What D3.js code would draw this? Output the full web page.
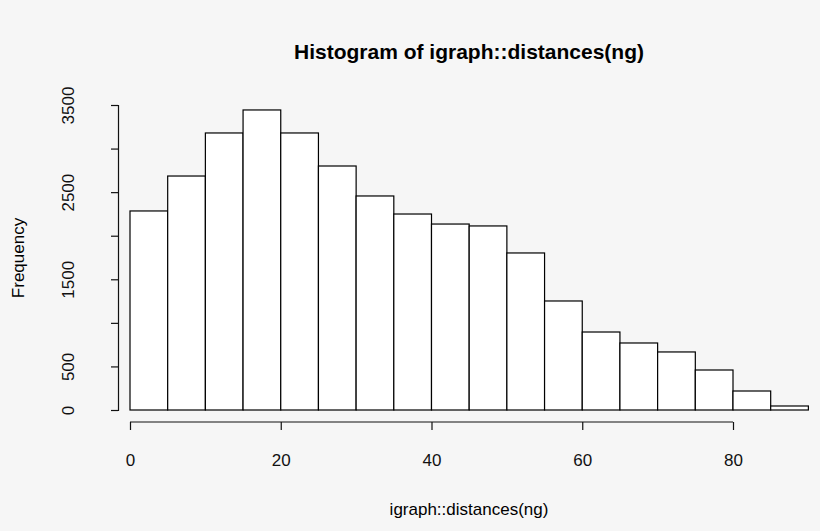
<!DOCTYPE html>
<html><head><meta charset="utf-8">
<script src="https://cdn.jsdelivr.net/npm/d3@7"></script>
<style>body{margin:0;background:#f6f6f6}svg{display:block;font-family:"Liberation Sans",Arial,sans-serif}</style>
</head><body><svg id="c" width="820" height="531"></svg>
<script>
const binStarts=[0,5,10,15,20,25,30,35,40,45,50,55,60,65,70,75,80,85];
const binWidth=5;
const counts=[2284,2685,3179,3443,3179,2800,2456,2249,2134,2112,1802,1251,895,769,666,459,218,46];
const xTicks=[0,20,40,60,80];
const yTicks=[0,500,1000,1500,2000,2500,3000,3500];
const yLabels=[0,500,1500,2500,3500];

const svg=d3.select("#c");
svg.append("rect").attr("width",820).attr("height",531).attr("fill","#f6f6f6");
const x=d3.scaleLinear().domain([0,80]).range([130,733]);
const y=d3.scaleLinear().domain([0,3500]).range([410,105]);

svg.selectAll("rect.bar").data(counts).enter().append("rect").attr("class","bar")
 .attr("x",(d,i)=>x(binStarts[i])).attr("width",(d,i)=>x(binStarts[i]+binWidth)-x(binStarts[i]))
 .attr("y",d=>y(d)).attr("height",d=>y(0)-y(d))
 .attr("fill","white").attr("stroke","black").attr("stroke-width",1.2);

const gx=svg.append("g").attr("transform","translate(0,422)")
 .call(d3.axisBottom(x).tickValues(xTicks).tickSize(8).tickPadding(24));
gx.select(".domain").attr("d",`M${x(0)},0H${x(80)}`);
const gy=svg.append("g").attr("transform","translate(118,0)")
 .call(d3.axisLeft(y).tickValues(yTicks).tickSize(7).tickFormat(d=>yLabels.includes(d)?d:""));
gy.selectAll(".tick text").attr("transform","rotate(-90,-50,0)")
 .attr("x",-50).attr("y",0).attr("dy","0.35em").attr("text-anchor","middle");
[gx,gy].forEach(g=>{g.selectAll("text").attr("font-size",17).attr("fill","#111");g.selectAll("line,path").attr("stroke","#111").attr("stroke-width",1.2);});

svg.append("text").attr("x",469).attr("y",59).attr("text-anchor","middle").attr("font-weight","bold").attr("font-size",21).text("Histogram of igraph::distances(ng)");
svg.append("text").attr("x",469).attr("y",515).attr("text-anchor","middle").attr("font-size",17).text("igraph::distances(ng)");
svg.append("text").attr("transform","translate(24,258) rotate(-90)").attr("text-anchor","middle").attr("font-size",17).text("Frequency");
</script></body></html>
